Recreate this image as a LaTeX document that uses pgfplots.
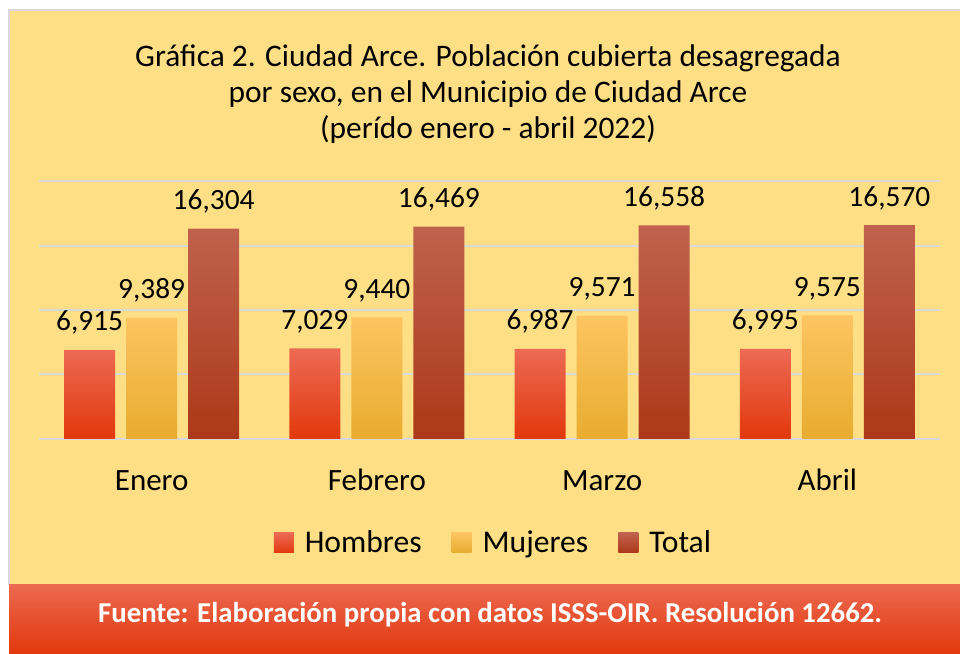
\documentclass[border=0pt]{standalone}
\usepackage{fontspec}
\setmainfont{Carlito}
\usepackage{pgfplots}
\pgfplotsset{compat=1.18}
\definecolor{bgyellow}{RGB}{255,223,133}
\definecolor{gridgray}{RGB}{218,216,218}
\definecolor{footTop}{RGB}{236,104,80}
\definecolor{footBot}{RGB}{226,56,12}
\definecolor{hTop}{RGB}{236,106,84}
\definecolor{hMid}{RGB}{240,74,34}
\definecolor{hBot}{RGB}{226,56,12}
\definecolor{mTop}{RGB}{253,196,98}
\definecolor{mMid}{RGB}{253,190,66}
\definecolor{mBot}{RGB}{232,172,46}
\definecolor{tTop}{RGB}{192,98,78}
\definecolor{tMid}{RGB}{185,66,36}
\definecolor{tBot}{RGB}{172,56,24}
\pgfplotsset{sqlegend/.style={legend image code/.code={\path[##1] (0pt,-5pt) rectangle (10pt,5pt);}}}
\begin{document}
\begin{tikzpicture}
\useasboundingbox (0,0) rectangle (480pt,327pt);
\fill[white] (0,0) rectangle (480pt,327pt);
\fill[bgyellow] (4.5pt,34.5pt) rectangle (480pt,322pt);
\draw[gridgray, line width=1pt] (4.5pt,34.5pt) -- (4.5pt,322pt) -- (480pt,322pt);
\shade[top color=footTop, bottom color=footBot] (4.5pt,0pt) rectangle (480pt,34.5pt);
\node[anchor=base, text=white, font=\fontsize{14.4}{16}\selectfont\bfseries] at (245pt,15.5pt) {Fuente: Elaboración propia con datos ISSS-OIR. Resolución 12662.};
\node[anchor=base, font=\fontsize{15.7}{18}\selectfont] at (244pt,293.5pt) {Gráfica 2. Ciudad Arce. Población cubierta desagregada};
\node[anchor=base, font=\fontsize{15.7}{18}\selectfont] at (244pt,275.5pt) {por sexo, en el Municipio de Ciudad Arce};
\node[anchor=base, font=\fontsize{15.7}{18}\selectfont] at (244pt,257.5pt) {(perído enero - abril 2022)};
\begin{axis}[
  at={(19.5pt,107.5pt)}, anchor=south west,
  width=450.5pt, height=129pt, scale only axis,
  xmin=-0.5, xmax=3.5, ymin=0, ymax=20000,
  ybar=5.5pt, bar width=25.5pt,
  xtick={0,1,2,3}, xticklabels={Enero,Febrero,Marzo,Abril},
  ytick={0,5000,10000,15000,20000}, yticklabels={}, scaled y ticks=false,
  ymajorgrids, grid style={color=gridgray, line width=1pt},
  axis line style={draw=none}, major tick length=0pt,
  xticklabel style={anchor=base, yshift=-26pt, font=\fontsize{15.5}{16}\selectfont},
  /pgf/number format/.cd, fixed, precision=0, 1000 sep={,}, assume math mode=true, /pgfplots/.cd,
  nodes near coords,
  every node near coord/.append style={anchor=base, yshift=9.5pt, font=\fontsize{14.7}{15}\selectfont, text=black},
  legend columns=3,
  legend style={at={(0.5055,-0.403)}, anchor=center, draw=none, fill=none,
    font=\fontsize{15.8}{16}\selectfont,
    /tikz/every odd column/.append style={column sep=3.5pt},
    /tikz/every even column/.append style={column sep=13pt}},
]
\addplot[draw=none, top color=hTop, middle color=hMid, bottom color=hBot, sqlegend] coordinates {(0,6915) (1,7029) (2,6987) (3,6995)};
\addplot[draw=none, top color=mTop, middle color=mMid, bottom color=mBot, sqlegend] coordinates {(0,9389) (1,9440) (2,9571) (3,9575)};
\addplot[draw=none, top color=tTop, middle color=tMid, bottom color=tBot, sqlegend] coordinates {(0,16304) (1,16469) (2,16558) (3,16570)};
\legend{Hombres,Mujeres,Total}
\end{axis}
\end{tikzpicture}
\end{document}
